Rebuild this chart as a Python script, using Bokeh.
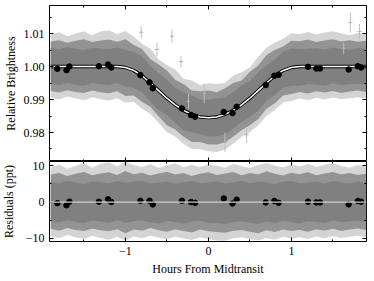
import numpy as np
from bokeh.plotting import figure
from bokeh.models import Range1d, LinearAxis, FixedTicker, Span, CustomLabelingPolicy
from bokeh.layouts import column
from bokeh.embed import file_html
from bokeh.resources import INLINE

# ---- data ----
hours = [-1.9, -1.8, -1.7, -1.6, -1.5, -1.4, -1.3, -1.2, -1.1, -1.0,
         -0.9, -0.8, -0.7, -0.6, -0.5, -0.4, -0.3, -0.2, -0.1, 0.0,
         0.1, 0.2, 0.3, 0.4, 0.5, 0.6, 0.7, 0.8, 0.9, 1.0,
         1.1, 1.2, 1.3, 1.4, 1.5, 1.6, 1.7, 1.8, 1.9]
model = [1.0000, 1.0000, 1.0000, 1.0000, 1.0000, 1.0000, 1.0000, 1.0000, 1.0000, 0.9997,
         0.9988, 0.9972, 0.9950, 0.9927, 0.9904, 0.9884, 0.9867, 0.9855, 0.9847, 0.9845,
         0.9847, 0.9855, 0.9867, 0.9884, 0.9904, 0.9927, 0.9950, 0.9972, 0.9988, 0.9997,
         1.0000, 1.0000, 1.0000, 1.0000, 1.0000, 1.0000, 1.0000, 1.0000, 1.0000]

# scatter envelope of the unbinned points (residuals, ppt)
core_hi = [5.6, 5.2, 5.9, 5.4, 5.0, 5.7, 5.5, 5.2, 5.8, 5.3, 5.6, 5.9, 5.2, 5.4, 5.7, 5.1, 5.5, 5.8, 5.2, 5.4,
           5.7, 5.1, 5.5, 5.9, 5.2, 5.6, 5.4, 5.0, 5.7, 5.8, 5.2, 5.4, 5.6, 5.1, 5.8, 5.4, 5.1, 5.6, 5.3]
core_lo = [-5.2, -5.6, -5.0, -5.5, -5.8, -5.1, -5.4, -5.7, -5.0, -5.8, -5.3, -5.1, -5.6, -5.9, -5.2, -5.5, -6.0, -5.4, -5.2, -5.7,
           -5.8, -6.1, -5.5, -5.3, -5.7, -6.0, -5.4, -5.8, -5.2, -5.6, -5.9, -5.3, -5.5, -5.8, -5.1, -5.6, -5.4, -5.2, -5.5]
mid_hi = [7.6, 8.0, 7.2, 7.8, 8.3, 7.4, 7.9, 8.2, 7.5, 8.6, 7.7, 8.1, 7.3, 7.9, 8.4, 7.6, 8.0, 7.2, 7.8, 8.2,
          7.5, 7.9, 8.3, 7.4, 8.0, 7.6, 8.5, 7.8, 7.3, 8.1, 7.7, 8.2, 7.4, 7.9, 8.3, 7.6, 8.0, 7.5, 7.8]
mid_lo = [-7.4, -7.9, -7.2, -7.7, -8.0, -7.3, -7.8, -8.1, -7.5, -8.6, -7.6, -7.9, -7.2, -7.8, -8.2, -7.5, -8.0, -8.4, -7.6, -8.1,
          -8.3, -8.5, -7.9, -7.7, -8.2, -8.6, -7.8, -8.3, -7.6, -8.0, -7.7, -8.2, -7.5, -7.9, -7.4, -8.0, -7.6, -7.3, -7.7]
out_hi = [9.6, 10.4, 9.2, 10.0, 10.7, 9.5, 10.6, 11.0, 9.8, 11.1, 10.2, 9.7, 10.5, 9.4, 10.1, 10.7, 9.6, 10.3, 9.7, 10.4,
          10.0, 9.5, 10.6, 9.9, 9.4, 10.2, 10.8, 10.0, 9.6, 10.4, 9.8, 10.5, 9.7, 10.3, 10.7, 10.0, 9.5, 10.2, 9.8]
out_lo = [-9.4, -10.0, -9.1, -9.7, -10.2, -9.3, -9.9, -10.4, -9.6, -10.7, -9.5, -10.0, -9.3, -9.8, -10.3, -9.6, -10.1, -10.5, -9.7, -10.2,
          -10.6, -10.7, -10.0, -9.7, -10.3, -10.6, -9.9, -10.4, -9.6, -10.1, -9.7, -10.2, -9.5, -10.0, -9.4, -9.9, -9.6, -9.3, -9.7]

# a few isolated outlying points (top panel)
out_x = [-0.81, -0.62, -0.44, -0.33, -0.24, -0.05, 0.20, 0.46, 1.63, 1.71, 1.82]
out_y = [1.0104, 1.0052, 1.0092, 1.0015, 0.9894, 0.9918, 0.9770, 0.9793, 1.0055, 1.0133, 1.0106]
out_e = [0.0018, 0.0021, 0.0020, 0.0017, 0.0022, 0.0030, 0.0030, 0.0024, 0.0018, 0.0030, 0.0023]

# binned points
bin_x = [-1.82, -1.71, -1.675, -1.32, -1.21, -1.17, -0.82, -0.71, -0.67, -0.32, -0.21, -0.16,
         0.185, 0.29, 0.34, 0.69, 0.795, 0.845, 1.20, 1.30, 1.345, 1.69, 1.80, 1.84]
bin_flux = [0.9993, 0.9989, 1.0000, 1.0001, 1.0006, 0.9997, 0.9974, 0.9952, 0.9934, 0.9873, 0.9853, 0.9848,
            0.9862, 0.9859, 0.9878, 0.9944, 0.9972, 0.9975, 0.9999, 0.9994, 0.9994, 0.9991, 1.0001, 0.9997]
bin_res = [-0.3, -0.9, 0.1, 0.1, 0.75, 0.0, 0.35, 0.35, -0.65, 0.35, 0.0, -0.2,
           1.0, -0.4, 0.65, -0.1, 0.3, -0.2, 0.1, -0.1, -0.1, -0.65, 0.3, 0.1]

x_ticks = [-1, 0, 1]
x_minor = [-1.5, -0.5, 0.5, 1.5]
x_labels = ["\u22121", "0", "1"]
f_ticks = [0.98, 0.99, 1.00, 1.01]
f_minor = [0.975, 0.985, 0.995, 1.005, 1.015]
f_labels = ["0.98", "0.99", "1.00", "1.01"]
r_ticks = [-10, 0, 10]
r_minor = [-5, 5]
r_labels = ["\u221210", "0", "10"]

FONT = "Liberation Serif"
C_CORE = "#808080"
C_MID = "#939393"
C_OUT = "#d4d4d4"

hx = np.array(hours)
mdl = np.array(model)

HIDE = "const all = [...indices]; for (const i of all) { indices.unset(i) } return indices"


def style_axis(ax, ticks, minor, labels, show):
    ax.ticker = FixedTicker(ticks=ticks, minor_ticks=minor)
    ax.major_tick_in = 4
    ax.major_tick_out = 0
    ax.minor_tick_in = 2
    ax.minor_tick_out = 0
    ax.major_tick_line_color = "black"
    ax.minor_tick_line_color = "black"
    ax.axis_line_color = None
    ax.major_label_text_font = FONT
    ax.major_label_text_color = "black"
    ax.axis_label_text_font = FONT
    ax.axis_label_text_font_style = "normal"
    ax.axis_label_text_font_size = "12px"
    ax.axis_label_text_color = "black"
    if show:
        ax.major_label_overrides = {t: l for t, l in zip(ticks, labels)}
        ax.major_label_text_font_size = "12px"
        ax.major_label_standoff = 5
    else:
        ax.major_label_text_font_size = "0px"
        ax.major_label_standoff = 0
        ax.major_label_policy = CustomLabelingPolicy(code=HIDE)


xr = Range1d(-1.915, 1.905)

p1 = figure(frame_width=317, frame_height=156, x_range=xr, y_range=Range1d(0.97121, 1.0185),
            output_backend="svg", toolbar_location=None,
            min_border_left=50, min_border_right=7, min_border_top=6, min_border_bottom=0)
p2 = figure(frame_width=317, frame_height=80, x_range=xr, y_range=Range1d(-10.9, 11.2),
            output_backend="svg", toolbar_location=None,
            min_border_left=50, min_border_right=7, min_border_top=8, min_border_bottom=38)

for p in (p1, p2):
    p.xgrid.visible = False
    p.ygrid.visible = False
    p.outline_line_color = "black"
    p.outline_line_width = 1
    p.background_fill_color = "white"
    p.border_fill_color = "white"

# the residual panel's top border overlaps the bottom of the upper panel
p2.border_fill_alpha = 0
p2.styles = {"margin-top": "-8px"}

# top panel
p1.varea(x=hx, y1=mdl + np.array(out_lo) / 1000, y2=mdl + np.array(out_hi) / 1000, color=C_OUT)
p1.varea(x=hx, y1=mdl + np.array(mid_lo) / 1000, y2=mdl + np.array(mid_hi) / 1000, color=C_MID)
p1.varea(x=hx, y1=mdl + np.array(core_lo) / 1000, y2=mdl + np.array(core_hi) / 1000, color=C_CORE)
oy = np.array(out_y)
oe = np.array(out_e)
p1.segment(x0=out_x, y0=oy - oe, x1=out_x, y1=oy + oe, line_color="#bdbdbd", line_width=1)
p1.scatter(x=out_x, y=out_y, marker="dash", size=4, line_color="#b0b0b0")
p1.line(hx, mdl, line_color="black", line_width=3.4)
p1.line(hx, mdl, line_color="white", line_width=1.5)
p1.scatter(x=bin_x, y=bin_flux, size=5.5, color="black")

# residual panel
p2.varea(x=hx, y1=out_lo, y2=out_hi, color=C_OUT)
p2.varea(x=hx, y1=mid_lo, y2=mid_hi, color=C_MID)
p2.varea(x=hx, y1=core_lo, y2=core_hi, color=C_CORE)
p2.add_layout(Span(location=0, dimension="width", line_color="#cfcfcf", line_width=1.3))
p2.scatter(x=bin_x, y=bin_res, size=5.5, color="black")

# axes
style_axis(p1.xaxis[0], x_ticks, x_minor, x_labels, False)
style_axis(p1.yaxis[0], f_ticks, f_minor, f_labels, True)
p1.yaxis[0].axis_label = "Relative Brightness"
p1.yaxis[0].axis_label_standoff = 3
style_axis(p2.xaxis[0], x_ticks, x_minor, x_labels, True)
p2.xaxis[0].axis_label = "Hours From Midtransit"
p2.xaxis[0].axis_label_standoff = 4
style_axis(p2.yaxis[0], r_ticks, r_minor, r_labels, True)
p2.yaxis[0].axis_label = "Residuals (ppt)"
p2.yaxis[0].axis_label_standoff = 7

for p, yt, ym in ((p1, f_ticks, f_minor), (p2, r_ticks, r_minor)):
    top = LinearAxis()
    style_axis(top, x_ticks, x_minor, x_labels, False)
    p.add_layout(top, "above")
    right = LinearAxis()
    style_axis(right, yt, ym, [], False)
    p.add_layout(right, "right")

layout = column(p1, p2, spacing=0)
layout.styles = {"margin-left": "-2px", "margin-top": "-1px"}

open("out.html", "w").write(file_html(layout, INLINE))
